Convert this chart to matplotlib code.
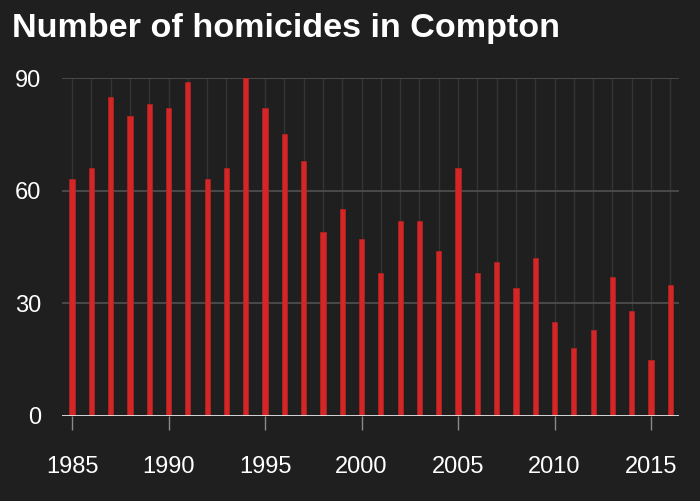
import numpy as np
import matplotlib
matplotlib.use("Agg")
import matplotlib.pyplot as plt

# datos: homicidios por año en Compton
years = list(range(1985, 2017))
homicides = [63, 66, 85, 80, 83, 82, 89, 63, 66, 90, 82, 75, 68, 49, 55, 47,
             38, 52, 52, 44, 66, 38, 41, 34, 42, 25, 18, 23, 37, 28, 15, 35]
yticks = [0, 30, 60, 90]
xticks = [1985, 1990, 1995, 2000, 2005, 2010, 2015]

bg = "#1f1f1f"
plt.rcParams['font.family'] = ['Liberation Sans', 'DejaVu Sans']

fig = plt.figure(figsize=(7, 5.01), dpi=100, facecolor=bg)
ax = fig.add_axes([62/700, 85/501, 617/700, 338/501], facecolor=bg)

# grilla vertical por año y horizontal
for yr in years:
    ax.axvline(yr, color="#343434", lw=1, zorder=0)
for t in yticks[1:]:
    ax.axhline(t, color="#4d4d4d", lw=1.3, zorder=1)

ax.bar(years, homicides, width=0.27, color="#d42626", edgecolor="#b82222",
       linewidth=0.5, zorder=2)
ax.axhline(0, color="#e6e6e6", lw=2, zorder=3)

ax.set_xlim(1984.48, 2016.45)
ax.set_ylim(0, 90)
ax.set_yticks(yticks)
ax.set_xticks(xticks)
ax.tick_params(axis='y', length=0, pad=15, labelsize=17, labelcolor="white")
ax.tick_params(axis='x', length=10, width=1, color="#8a8a8a", pad=19,
               labelsize=17, labelcolor="white")
for s in ax.spines.values():
    s.set_visible(False)

fig.text(12/700, 1 - 37/501, "Number of homicides in Compton", color="white",
         fontsize=24.6, fontweight="bold", va="baseline", ha="left")

fig.savefig("out.png", dpi=100, facecolor=bg)
